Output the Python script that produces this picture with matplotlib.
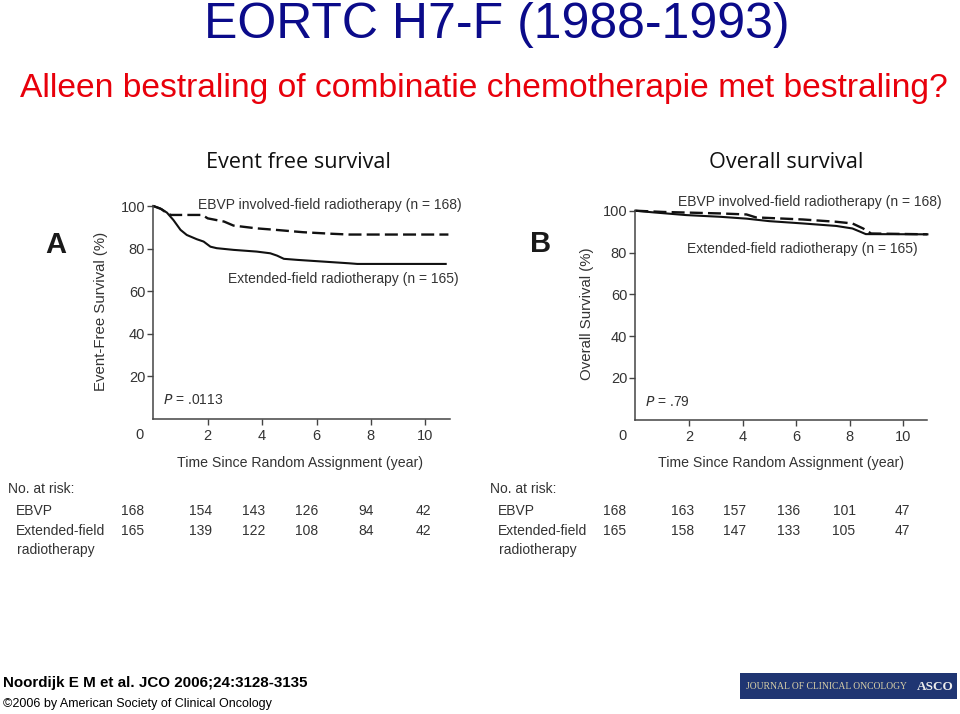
import matplotlib
matplotlib.use("Agg")
import matplotlib.pyplot as plt
from matplotlib.patches import Rectangle

# ---------------- data ----------------
efs_ebvp_t = [0, 0.3, 0.5, 0.65, 1.8, 2.0, 2.6, 2.95, 3.8, 4.5, 5.5, 6.5, 7.2, 10.85]
efs_ebvp_s = [100, 98.5, 96.6, 95.8, 95.8, 94.2, 92.7, 90.8, 89.5, 88.8, 87.7, 87.0, 86.6, 86.6]
efs_ext_t = [0, 0.25, 0.5, 0.74, 1.0, 1.23, 1.6, 1.85, 2.1, 2.33, 2.95, 3.8, 4.3, 4.55, 4.8,
             5.3, 6.25, 7.2, 7.5, 10.75]
efs_ext_s = [100, 98.9, 96.9, 93.4, 88.8, 86.4, 84.4, 83.3, 80.9, 80.2, 79.4, 78.6, 77.8, 76.7,
             75.2, 74.7, 73.9, 73.1, 72.8, 72.8]

os_ebvp_t = [0, 1.05, 3.15, 4.15, 4.5, 6.25, 7.5, 8.1, 8.5, 8.8, 10.9]
os_ebvp_s = [100, 99.4, 98.7, 98.2, 96.8, 95.8, 94.7, 93.9, 91.5, 89.1, 88.7]
os_ext_t = [0, 0.67, 1.9, 3.15, 4.15, 5.0, 6.25, 7.5, 8.1, 8.4, 8.6, 10.9]
os_ext_s = [100, 99.2, 97.9, 97.1, 96.2, 95.0, 93.9, 92.7, 91.5, 89.9, 88.8, 88.7]

x_ticks = [2, 4, 6, 8, 10]
y_ticks = [20, 40, 60, 80, 100]

risk_ebvp_A = [168, 154, 143, 126, 94, 42]
risk_ext_A = [165, 139, 122, 108, 84, 42]
risk_ebvp_B = [168, 163, 157, 136, 101, 47]
risk_ext_B = [165, 158, 147, 133, 105, 47]

title = "EORTC H7-F (1988-1993)"
subtitle = "Alleen bestraling of combinatie chemotherapie met bestraling?"
panel_titles = ["Event free survival", "Overall survival"]
ylabels = ["Event-Free Survival (%)", "Overall Survival (%)"]
xlabel = "Time Since Random Assignment (year)"
lab_ebvp = "EBVP involved-field radiotherapy (n = 168)"
lab_ext = "Extended-field radiotherapy (n = 165)"
pvals = [".0113", ".79"]

# ---------------- figure ----------------
W, H = 960, 714
fig = plt.figure(figsize=(W / 100, H / 100), dpi=100)
fig.patch.set_facecolor("white")
plt.rcParams["font.family"] = ["Liberation Sans", "DejaVu Sans"]

def ftext(x, y, s, **kw):
    return fig.text(x / W, 1 - y / H, s, **kw)

GRAY = "#333333"
FS = 10

def make_axes(left_px, y0_px, ypx_per_unit, xpx_per_year, xmax):
    w = xmax * xpx_per_year
    h = 100 * ypx_per_unit
    ax = fig.add_axes([left_px / W, 1 - y0_px / H, w / W, h / H])
    ax.set_xlim(0, xmax)
    ax.set_ylim(0, 100)
    for s in ["top", "right"]:
        ax.spines[s].set_visible(False)
    for s in ["left", "bottom"]:
        ax.spines[s].set_color("#444444")
        ax.spines[s].set_linewidth(1.1)
    ax.set_xticks(x_ticks)
    ax.set_yticks(y_ticks)
    ax.tick_params(axis="both", direction="out", length=4, width=1, color="#444444",
                   labelsize=10.5, labelcolor=GRAY)
    ax.tick_params(axis="x", pad=3.5)
    ax.tick_params(axis="y", pad=1.8)
    ax.set_facecolor("none")
    return ax

axA = make_axes(153.3, 419, 2.13, 27.2, 10.9)
axB = make_axes(635.3, 419.7, 2.09, 26.8, 10.9)

dash = (5.5, 2.2)
for ax, (t1, s1, t2, s2) in zip(
        [axA, axB],
        [(efs_ebvp_t, efs_ebvp_s, efs_ext_t, efs_ext_s),
         (os_ebvp_t, os_ebvp_s, os_ext_t, os_ext_s)]):
    ax.plot(t1, s1, color="#111111", lw=1.7, linestyle=(0, dash), clip_on=False)
    ax.plot(t2, s2, color="#111111", lw=1.5, clip_on=False)
    ax.text(-0.49, -7.6, "0", ha="center", va="center", fontsize=10.5, color=GRAY)

# curve labels
axA.text(1.64, 100.3, lab_ebvp, fontsize=FS, color=GRAY, va="center", ha="left")
axA.text(2.75, 65.7, lab_ext, fontsize=FS, color=GRAY, va="center", ha="left")
axB.text(1.59, 104.0, lab_ebvp, fontsize=FS, color=GRAY, va="center", ha="left")
axB.text(1.93, 81.7, lab_ext, fontsize=FS, color=GRAY, va="center", ha="left")
for ax, p in zip([axA, axB], pvals):
    ax.text(0.36, 8.7, r"$\it{P}$ = " + p, fontsize=FS, color=GRAY, va="center", ha="left")

# axis labels
ftext(101, 311, ylabels[0], rotation=90, ha="center", va="center", fontsize=10.8, color=GRAY)
ftext(587, 314, ylabels[1], rotation=90, ha="center", va="center", fontsize=10.8, color=GRAY)
ftext(300, 463, xlabel, ha="center", va="center", fontsize=10.2, color=GRAY)
ftext(781, 463, xlabel, ha="center", va="center", fontsize=10.2, color=GRAY)

# panel letters
ftext(56, 253, "A", ha="center", va="baseline", fontsize=21, fontweight="bold", color="#1a1a1a")
ftext(541, 252, "B", ha="center", va="baseline", fontsize=21, fontweight="bold", color="#1a1a1a")

# titles
ftext(497, 38, title, ha="center", va="baseline", fontsize=36, color="#0b0b8a")
ftext(20, 97.5, subtitle, ha="left", va="baseline", fontsize=24.2, color="#e8000b")
ftext(298, 168, panel_titles[0], ha="center", va="baseline", fontsize=15.6,
      family=["Open Sans", "DejaVu Sans"], color="#111111")
ftext(786, 168, panel_titles[1], ha="center", va="baseline", fontsize=15.6,
      family=["Open Sans", "DejaVu Sans"], color="#111111")

# risk tables
colsA = [133, 201, 254, 307, 366, 423]
colsB = [615, 683, 735, 789, 844, 902]
for x0, cols, r1, r2 in [(8, colsA, risk_ebvp_A, risk_ext_A), (490, colsB, risk_ebvp_B, risk_ext_B)]:
    ftext(x0, 489, "No. at risk:", ha="left", va="center", fontsize=FS, color=GRAY)
    ftext(x0 + 8, 511, "EBVP", ha="left", va="center", fontsize=FS, color=GRAY)
    ftext(x0 + 8, 531, "Extended-field", ha="left", va="center", fontsize=FS, color=GRAY)
    ftext(x0 + 9, 550, "radiotherapy", ha="left", va="center", fontsize=FS, color=GRAY)
    for c, a, b in zip(cols, r1, r2):
        ftext(c, 511, str(a), ha="center", va="center", fontsize=FS, color=GRAY)
        ftext(c, 531, str(b), ha="center", va="center", fontsize=FS, color=GRAY)

# footer
ftext(3, 687, "Noordijk E M et al. JCO 2006;24:3128-3135", ha="left", va="baseline",
      fontsize=10.9, fontweight="bold", color="#000000")
ftext(3, 707.5, "\u00a92006 by American Society of Clinical Oncology", ha="left", va="baseline",
      fontsize=9.0, color="#000000")

# journal logo
fig.patches.append(Rectangle((740 / W, 1 - 699 / H), 217 / W, 26 / H,
                             transform=fig.transFigure, facecolor="#1f3572",
                             edgecolor="none"))
ftext(746, 686.5, "JOURNAL OF CLINICAL ONCOLOGY", ha="left", va="center", fontsize=6.9,
      family=["Liberation Serif", "DejaVu Serif"], color="#d8cfa8")
ftext(917, 686.5, "ASCO", ha="left", va="center", fontsize=9.5,
      family=["Liberation Serif", "DejaVu Serif"], fontweight="bold", color="#ececec")

fig.savefig("out.png", dpi=100, facecolor="white")
